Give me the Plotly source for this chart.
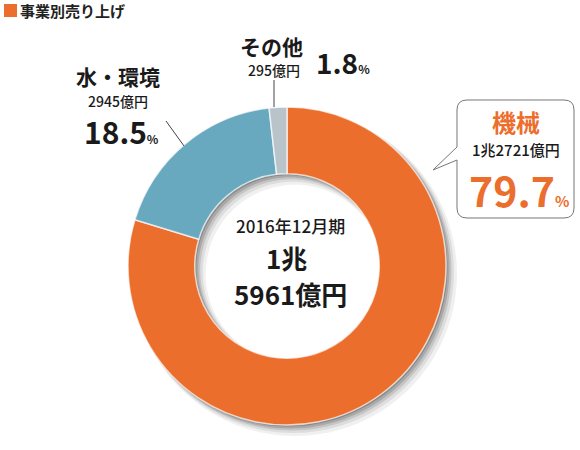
import math
import plotly.graph_objects as go

W, H = 580, 450

labels = ["機械", "水・環境", "その他"]
values = [79.7, 18.5, 1.8]
amounts = ["1兆2721億円", "2945億円", "295億円"]
colors = ["#EC6E2D", "#69A9BF", "#B8C3CA"]
title = "事業別売り上げ"
period = "2016年12月期"
total_line1 = "1兆"
total_line2 = "5961億円"

FONT = "Noto Sans CJK JP"


def px(x):
    return x / W


def py(y):
    return 1 - y / H


def P(x, y):
    return f"{px(x):.5f},{py(y):.5f}"


cx, cy, r = 287, 266, 159
HOLE = 0.58

fig = go.Figure()
fig.add_trace(go.Pie(
    labels=labels, values=values, sort=False, direction="clockwise", rotation=0,
    hole=HOLE, textinfo="none", hoverinfo="label+percent",
    marker=dict(colors=colors, line=dict(color="rgba(255,255,255,0.7)", width=1.5)),
    domain=dict(x=[px(cx - r), px(cx + r)], y=[py(cy + r), py(cy - r)]),
    showlegend=False,
))

ann = []


def add(text, x, y, size, color="#1a1a1a", bold=False, xanchor="center", weight=500):
    t = f"<b>{text}</b>" if bold else text
    ann.append(dict(text=t, x=px(x), y=py(y), xref="paper", yref="paper",
                    xanchor=xanchor, yanchor="middle", showarrow=False, borderpad=0,
                    font=dict(family=FONT, size=size, color=color, weight=weight)))


# title
add(title, 19, 10, 15, "#222", bold=True, xanchor="left")

# water/environment
add(labels[1], 118, 76, 21, bold=True)
add(amounts[1], 118, 101, 14)
add(f"{values[1]}<span style='font-size:12px'>%</span>", 121, 131, 30, bold=True)

# others
add(labels[2], 271, 46, 21, bold=True)
add(amounts[2], 274, 70, 14)
add(f"{values[2]}<span style='font-size:12px'>%</span>", 343, 62, 28, bold=True)

# machinery callout
add(labels[0], 516, 121, 24, "#EC6E2D", bold=True)
add(amounts[0], 516, 149, 15)
add(f"{values[0]}<span style='font-size:15px'>%</span>", 519, 189, 41, "#EC6E2D", bold=True)

# center
add(period, 290, 225, 17)
add(total_line1, 286, 257, 26, bold=True)
add(total_line2, 290, 293, 26, bold=True)

shapes = []


# soft drop shadow of the ring (decorative), drawn beneath the pie
def ring_path(ox, oy, ro, ri, n=144):
    outer = [(ox + ro * math.cos(2 * math.pi * k / n), oy + ro * math.sin(2 * math.pi * k / n)) for k in range(n)]
    inner = [(ox + ri * math.cos(-2 * math.pi * k / n), oy + ri * math.sin(-2 * math.pi * k / n)) for k in range(n)]
    s = "M " + " L ".join(P(x, y) for x, y in outer) + " Z "
    s += "M " + " L ".join(P(x, y) for x, y in inner) + " Z"
    return s


for off, grow, a in [(8, 3, 0.06), (6, 2, 0.08), (4.5, 1, 0.11), (3, 0.5, 0.14), (1.5, 0, 0.18)]:
    shapes.append(dict(type="path", xref="paper", yref="paper",
                       path=ring_path(cx + off, cy + off, r + grow, r * HOLE - grow),
                       fillcolor=f"rgba(0,0,0,{a})", line=dict(width=0), layer="below"))

shapes += [
    dict(type="rect", xref="paper", yref="paper", x0=px(4), x1=px(17), y0=py(17), y1=py(4),
         fillcolor="#EC6E2D", line=dict(width=0)),
    dict(type="line", xref="paper", yref="paper", x0=px(166), y0=py(121), x1=px(184), y1=py(146),
         line=dict(color="#444", width=1)),
    dict(type="line", xref="paper", yref="paper", x0=px(274), y0=py(80), x1=px(274), y1=py(107),
         line=dict(color="#444", width=1)),
]

L, R, T, B, rad = 457, 574, 100, 218, 10
path = (f"M {P(L+rad, T)} L {P(R-rad, T)} Q {P(R, T)} {P(R, T+rad)} "
        f"L {P(R, B-rad)} Q {P(R, B)} {P(R-rad, B)} L {P(L+rad, B)} Q {P(L, B)} {P(L, B-rad)} "
        f"L {P(L, 160)} L {P(433, 170)} L {P(L, 147)} L {P(L, T+rad)} Q {P(L, T)} {P(L+rad, T)} Z")
shapes.append(dict(type="path", xref="paper", yref="paper", path=path,
                   fillcolor="white", line=dict(color="#777", width=1), layer="below"))

fig.update_layout(
    width=W, height=H, margin=dict(l=0, r=0, t=0, b=0),
    paper_bgcolor="white", plot_bgcolor="white",
    annotations=ann, shapes=shapes,
)

fig.write_html("out.html")
